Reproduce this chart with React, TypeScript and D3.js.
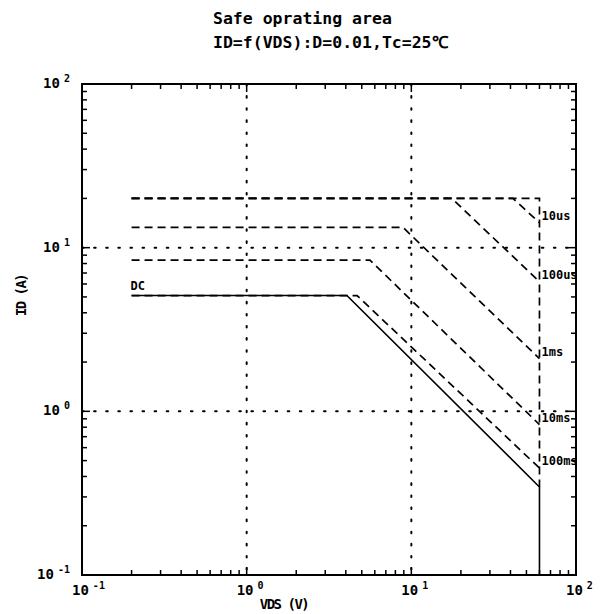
import React from "react";
import * as d3 from "d3";

// Safe operating area: ID = f(VDS), D = 0.01, Tc = 25 °C
const pulseLabels = ["10us", "100us", "1ms", "10ms", "100ms"];
const pulseIdMax = [20, 20, 13.3, 8.4, 5.1];      // A, flat current limit
const pulseKneeV = [41.4, 17.6, 8.9, 5.6, 4.68];  // V, start of power limit
const pulseIdAtVmax = [14.2, 6.2, 2.1, 0.83, 0.45]; // A, at VDS max

const dcLabel = "DC";
const dcIdMax = 5.1;
const dcKneeV = 4.06;
const dcIdAtVmax = 0.345;

const vdsMin = 0.2;
const vdsMax = 60;
const idPulseMax = 20;
const idFloor = 0.1;

const decades = [0.1, 1, 10, 100];
const decadeExp = ["-1", "0", "1", "2"];
const gridDecades = [1, 10];

const W = 606;
const H = 614;
const left = 82, right = 576, top = 84, bottom = 575;

const mono = "'DejaVu Sans Mono', monospace";

export default function App() {
  const x = d3.scaleLog().domain([0.1, 100]).range([left, right]);
  const y = d3.scaleLog().domain([0.1, 100]).range([bottom, top]);
  const line = d3.line<[number, number]>().x(d => x(d[0])).y(d => y(d[1]));

  // minor ticks 2..9 in each decade
  const minors: number[] = [];
  [0.1, 1, 10].forEach(b => { for (let k = 2; k <= 9; k++) minors.push(b * k); });

  const pulsePaths = pulseLabels.map((_, i) =>
    line([
      [vdsMin, pulseIdMax[i]],
      [pulseKneeV[i], pulseIdMax[i]],
      [vdsMax, pulseIdAtVmax[i]],
    ])
  );
  const boundary = line([
    [vdsMin, idPulseMax],
    [vdsMax, idPulseMax],
    [vdsMax, dcIdAtVmax],
  ]);
  const dcPath = line([
    [vdsMin, dcIdMax],
    [dcKneeV, dcIdMax],
    [vdsMax, dcIdAtVmax],
    [vdsMax, idFloor],
  ]);

  const dash = "8 5";

  return (
    <svg width={W} height={H} style={{ position: "absolute", left: 0, top: 0, background: "#fff" }}>
      <text x={213} y={24} fontFamily={mono} fontSize={16.5} fontWeight="bold" fill="#000">
        Safe oprating area
      </text>
      <text x={213} y={48} fontFamily={mono} fontSize={16.5} fontWeight="bold" fill="#000">
        ID=f(VDS):D=0.01,Tc=25℃
      </text>

      {/* dotted grid at decades */}
      {gridDecades.map(v => (
        <g key={"g" + v}>
          <line x1={x(v)} x2={x(v)} y1={top} y2={bottom} stroke="#000" strokeWidth={2}
            strokeDasharray="1.6 10.5" strokeLinecap="round" />
          <line x1={left} x2={right} y1={y(v)} y2={y(v)} stroke="#000" strokeWidth={2}
            strokeDasharray="1.6 10.5" strokeLinecap="round" />
        </g>
      ))}

      {/* ticks on all four sides */}
      {minors.map(v => (
        <g key={"m" + v} stroke="#000" strokeWidth={1.5}>
          <line x1={x(v)} x2={x(v)} y1={bottom} y2={bottom - 5} />
          <line x1={x(v)} x2={x(v)} y1={top} y2={top + 5} />
          <line x1={left} x2={left + 5} y1={y(v)} y2={y(v)} />
          <line x1={right} x2={right - 5} y1={y(v)} y2={y(v)} />
        </g>
      ))}
      {decades.map(v => (
        <g key={"M" + v} stroke="#000" strokeWidth={1.5}>
          <line x1={x(v)} x2={x(v)} y1={bottom} y2={bottom - 8} />
          <line x1={x(v)} x2={x(v)} y1={top} y2={top + 8} />
          <line x1={left} x2={left + 8} y1={y(v)} y2={y(v)} />
          <line x1={right} x2={right - 8} y1={y(v)} y2={y(v)} />
        </g>
      ))}

      {/* curves */}
      <path d={boundary ?? ""} fill="none" stroke="#000" strokeWidth={1.7} strokeDasharray={dash} />
      {pulsePaths.map((d, i) => (
        <path key={"p" + i} d={d ?? ""} fill="none" stroke="#000" strokeWidth={1.7} strokeDasharray={dash} />
      ))}
      <path d={dcPath ?? ""} fill="none" stroke="#000" strokeWidth={1.6} />

      {pulseLabels.map((t, i) => (
        <text key={"l" + i} x={x(vdsMax) + 2} y={y(pulseIdAtVmax[i]) - 3}
          fontFamily={mono} fontSize={12} fontWeight="bold" fill="#000">{t}</text>
      ))}
      <text x={x(vdsMin) - 1} y={y(dcIdMax) - 6} fontFamily={mono} fontSize={12}
        fontWeight="bold" fill="#000">{dcLabel}</text>

      {/* frame */}
      <rect x={left} y={top} width={right - left} height={bottom - top} fill="none" stroke="#000" strokeWidth={2} />

      {/* y tick labels */}
      {decades.map((v, i) => (
        <text key={"yl" + v} x={left - 12} y={y(v) + 4} textAnchor="end"
          fontFamily={mono} fontSize={14} fontWeight="bold" fill="#000">
          10<tspan dx={4} dy={-6} fontSize={10}>{decadeExp[i]}</tspan>
        </text>
      ))}
      {/* x tick labels */}
      {decades.map((v, i) => (
        <text key={"xl" + v} x={x(v) - 10} y={bottom + 20}
          fontFamily={mono} fontSize={14} fontWeight="bold" fill="#000">
          10<tspan dx={4} dy={-6} fontSize={10}>{decadeExp[i]}</tspan>
        </text>
      ))}

      <text x={284} y={609} textAnchor="middle" fontFamily={mono}
        fontSize={14} fontWeight="bold" letterSpacing={-1.5} fill="#000">VDS (V)</text>
      <text transform={`translate(26, ${(top + bottom) / 2 - 34}) rotate(-90)`} textAnchor="middle"
        fontFamily={mono} fontSize={14} fontWeight="bold" letterSpacing={-1.5} fill="#000">ID (A)</text>
    </svg>
  );
}
